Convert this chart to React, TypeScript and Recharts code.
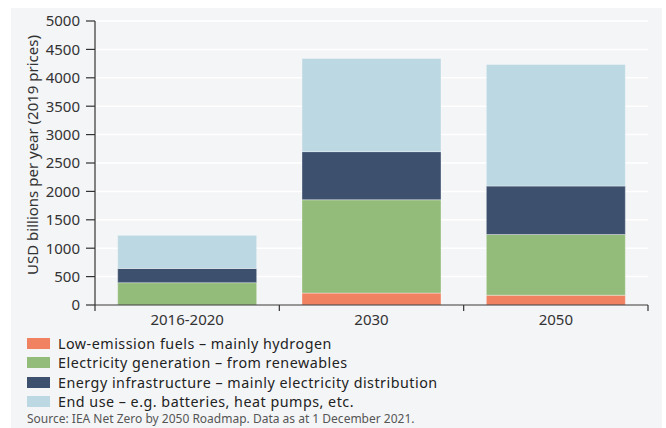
import React from 'react';
import { BarChart, Bar, XAxis, YAxis, CartesianGrid } from 'recharts';

// Investment categories shown on the horizontal axis
const periods = ['2016-2020', '2030', '2050'];

// Stacked segments, USD billions per year (2019 prices)
const lowEmissionFuels = [0, 210, 172];
const electricityGeneration = [393, 1643, 1069];
const energyInfrastructure = [250, 847, 853];
const endUse = [583, 1641, 2141];

const yTicks = [0, 500, 1000, 1500, 2000, 2500, 3000, 3500, 4000, 4500, 5000];

const seriesNames = [
  'Low-emission fuels – mainly hydrogen',
  'Electricity generation – from renewables',
  'Energy infrastructure – mainly electricity distribution',
  'End use – e.g. batteries, heat pumps, etc.',
];
const seriesKeys = ['fuels', 'generation', 'infrastructure', 'endUse'];
const seriesColors = ['#f08262', '#93bb7a', '#3d506e', '#bcd8e2'];

const data = periods.map((p, i) => ({
  period: p,
  fuels: lowEmissionFuels[i],
  generation: electricityGeneration[i],
  infrastructure: energyInfrastructure[i],
  endUse: endUse[i],
}));

const FONT = '"Noto Sans", "Open Sans", sans-serif';
const TEXT = '#333333';

const CHART_W = 666;
const CHART_H = 428;
const X_AXIS_H = 30;
const MARGIN = { top: 21, right: 18, bottom: 123 - X_AXIS_H, left: 35 };
const Y_AXIS_W = 60;
const BAND = (CHART_W - MARGIN.left - MARGIN.right - Y_AXIS_W) / periods.length;

// Category tick: label centred in its band, with tick marks on the band edges
const BandTick = (props: any) => {
  const { x, y, payload, index } = props;
  const left = x - BAND / 2;
  const right = x + BAND / 2;
  return (
    <g>
      {index === 0 && (
        <line x1={left} y1={y} x2={left} y2={y + 6} stroke={TEXT} strokeWidth={1.2} />
      )}
      <line x1={right} y1={y} x2={right} y2={y + 6} stroke={TEXT} strokeWidth={1.2} />
      <text
        x={x}
        y={y + 20}
        textAnchor="middle"
        fill={TEXT}
        fontSize={15}
        fontFamily={FONT}
      >
        {payload.value}
      </text>
    </g>
  );
};

export default function App() {
  return (
    <div style={{ position: 'absolute', left: 0, top: 0, width: CHART_W, height: CHART_H }}>
      <div
        style={{
          position: 'absolute',
          left: 11,
          top: 8,
          width: 651,
          height: 420,
          background: '#f4f5f7',
        }}
      />
      <div style={{ position: 'absolute', left: 0, top: 0 }}>
        <BarChart
          width={CHART_W}
          height={CHART_H}
          data={data}
          margin={MARGIN}
          barCategoryGap="12.3%"
        >
          <CartesianGrid vertical={false} stroke="#ffffff" strokeWidth={1.5} />
          <XAxis
            dataKey="period"
            height={X_AXIS_H}
            axisLine={{ stroke: TEXT, strokeWidth: 1.2 }}
            tickLine={false}
            tickSize={0}
            tickMargin={0}
            tick={<BandTick />}
            interval={0}
          />
          <YAxis
            width={Y_AXIS_W}
            domain={[0, 5000]}
            ticks={yTicks}
            interval={0}
            axisLine={{ stroke: TEXT, strokeWidth: 1.2 }}
            tickLine={{ stroke: TEXT, strokeWidth: 1.2 }}
            tickSize={9}
            tickMargin={6}
            tick={{ fill: TEXT, fontSize: 15, fontFamily: FONT }}
          />
          {seriesKeys.map((k, i) => (
            <Bar
              key={k}
              dataKey={k}
              name={seriesNames[i]}
              stackId="total"
              fill={seriesColors[i]}
              stroke="#ffffff"
              strokeOpacity={0.35}
              strokeWidth={1}
              isAnimationActive={false}
            />
          ))}
        </BarChart>
      </div>
      <div
        style={{
          position: 'absolute',
          left: 32,
          top: 155,
          transform: 'translate(-50%, -50%) rotate(-90deg)',
          whiteSpace: 'nowrap',
          fontFamily: FONT,
          fontSize: 15,
          color: TEXT,
        }}
      >
        USD billions per year (2019 prices)
      </div>
      {seriesNames.map((name, i) => (
        <div
          key={name}
          style={{
            position: 'absolute',
            left: 27,
            top: 333.5 + i * 19.5,
            height: 19,
            lineHeight: '19px',
            display: 'flex',
            alignItems: 'center',
            fontFamily: FONT,
            fontSize: 14.3,
            letterSpacing: 0.5,
            color: '#222',
            whiteSpace: 'nowrap',
          }}
        >
          <span
            style={{
              display: 'inline-block',
              width: 23,
              height: 11,
              background: seriesColors[i],
              marginRight: 8,
            }}
          />
          {name}
        </div>
      ))}
      <div
        style={{
          position: 'absolute',
          left: 27,
          top: 411,
          lineHeight: '16px',
          fontFamily: FONT,
          fontSize: 12,
          color: '#555',
          whiteSpace: 'nowrap',
        }}
      >
        Source: IEA Net Zero by 2050 Roadmap. Data as at 1 December 2021.
      </div>
    </div>
  );
}
